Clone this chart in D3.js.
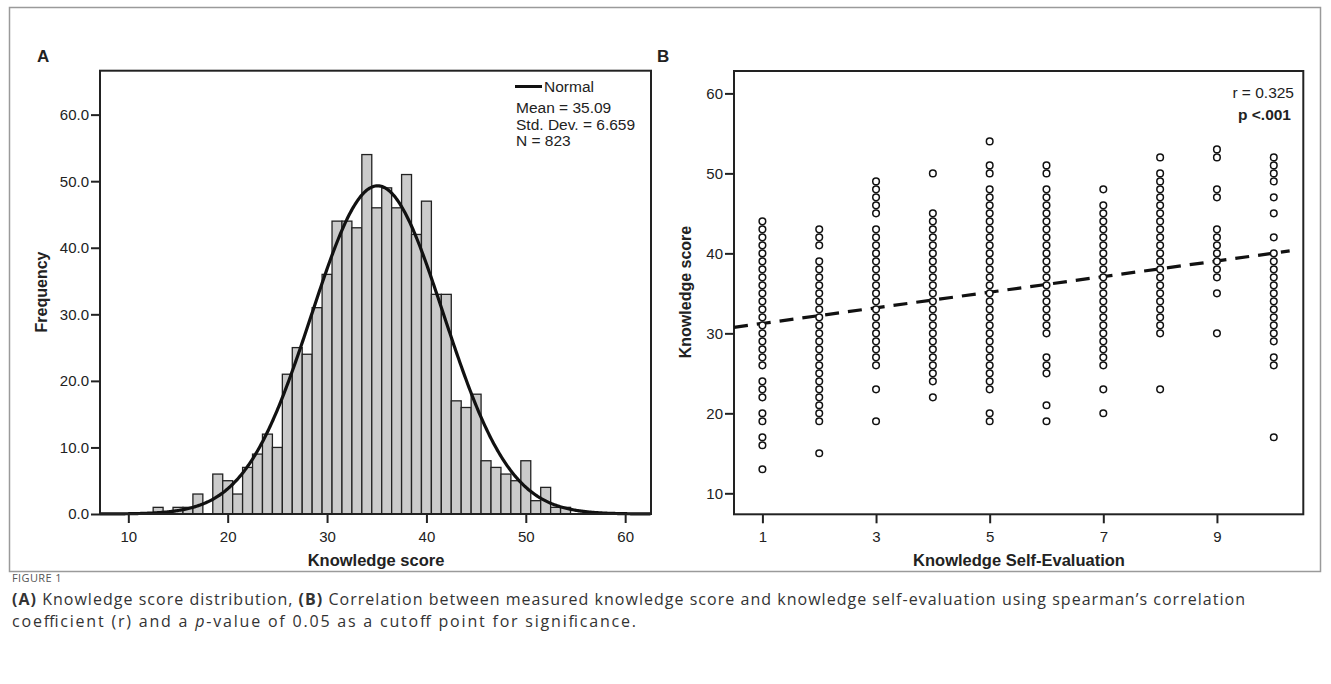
<!DOCTYPE html>
<html>
<head>
<meta charset="utf-8">
<script src="https://cdn.jsdelivr.net/npm/d3@7"></script>
<style>
  body { margin: 0; background: #fff; }
  svg text { font-family: "Liberation Sans", Arial, sans-serif; fill: #222; }
  .cap { font-family: "Open Sans", "Noto Sans", sans-serif; }
</style>
</head>
<body>
<div id="fig"></div>
<script>
// ---- panel A : histogram of knowledge score ----
var scores = [13, 15, 16, 17, 19, 20, 21, 22, 23, 24, 25, 26, 27, 28, 29, 30, 31, 32, 33, 34,
              35, 36, 37, 38, 39, 40, 41, 42, 43, 44, 45, 46, 47, 48, 49, 50, 51, 52, 53, 54];
var counts = [1, 1, 1, 3, 6, 5, 3, 7, 9, 12, 10, 21, 25, 24, 31, 36, 44, 44, 43, 54,
              46, 49, 46, 51, 42, 47, 33, 33, 17, 16, 18, 8, 7, 6, 5, 8, 2, 4, 1, 1];
var histTicksX = [10, 20, 30, 40, 50, 60];
var histTicksY = [0, 10, 20, 30, 40, 50, 60];
var normMean = 35.09, normSd = 6.659, normN = 823;
var legendLines = ["Mean = 35.09", "Std. Dev. = 6.659", "N = 823"];

// ---- panel B : knowledge score by self-evaluation ----
var selfEval = [1, 2, 3, 4, 5, 6, 7, 8, 9, 10];
var knowByEval = [
  [13, 16, 17, 19, 20, 22, 23, 24, 26, 27, 28, 29, 30, 31, 32, 33, 34, 35, 36, 37, 38, 39, 40, 41, 42, 43, 44],
  [15, 19, 20, 21, 22, 23, 24, 25, 26, 27, 28, 29, 30, 31, 32, 33, 34, 35, 36, 37, 38, 39, 41, 42, 43],
  [19, 23, 26, 27, 28, 29, 30, 31, 32, 33, 34, 35, 36, 37, 38, 39, 40, 41, 42, 43, 45, 46, 47, 48, 49],
  [22, 24, 25, 26, 27, 28, 29, 30, 31, 32, 33, 34, 35, 36, 37, 38, 39, 40, 41, 42, 43, 44, 45, 50],
  [19, 20, 23, 24, 25, 26, 27, 28, 29, 30, 31, 32, 33, 34, 35, 36, 37, 38, 39, 40, 41, 42, 43, 44, 45, 46, 47, 48, 50, 51, 54],
  [19, 21, 25, 26, 27, 30, 31, 32, 33, 34, 35, 36, 37, 38, 39, 40, 41, 42, 43, 44, 45, 46, 47, 48, 50, 51],
  [20, 23, 26, 27, 28, 29, 30, 31, 32, 33, 34, 35, 36, 37, 38, 39, 40, 41, 42, 43, 44, 45, 46, 48],
  [23, 30, 31, 32, 33, 34, 35, 36, 37, 38, 39, 40, 41, 42, 43, 44, 45, 46, 47, 48, 49, 50, 52],
  [30, 35, 37, 38, 39, 40, 41, 42, 43, 47, 48, 52, 53],
  [17, 26, 27, 29, 30, 31, 32, 33, 34, 35, 36, 37, 38, 39, 40, 42, 45, 47, 49, 50, 51, 52]
];
var scatTicksX = [1, 3, 5, 7, 9];
var scatTicksY = [10, 20, 30, 40, 50, 60];
var fitX = [0.5, 10.28];
var fitY = [30.75, 40.3];
var statLines = ["r = 0.325", "p <.001"];

var W = 1331, H = 684;
var svg = d3.select("#fig").append("svg")
    .attr("width", W)
    .attr("height", H);

// outer frame of the figure
svg.append("rect")
    .attr("x", 9.5).attr("y", 7.5)
    .attr("width", 1311).attr("height", 564)
    .attr("fill", "none")
    .attr("stroke", "#9a9a9a")
    .attr("stroke-width", 1.5);

//---------------- Panel A ----------------
var xA = d3.scaleLinear().domain([7.15, 62.6]).range([100, 651]);
var yA = d3.scaleLinear().domain([0, 66.6]).range([514, 70.7]);

svg.append("text").attr("x", 37).attr("y", 62)
    .attr("font-size", 17).attr("font-weight", "bold").text("A");

var gA = svg.append("g");

gA.selectAll("rect.bar")
    .data(scores)
    .enter()
    .append("rect")
    .attr("class", "bar")
    .attr("x", function(d) { return xA(d - 0.5); })
    .attr("width", function(d) { return xA(d + 0.5) - xA(d - 0.5); })
    .attr("y", function(d, i) { return yA(counts[i]); })
    .attr("height", function(d, i) { return yA(0) - yA(counts[i]); })
    .attr("fill", "#cbcbcb")
    .attr("stroke", "#222")
    .attr("stroke-width", 1.3);

// fitted normal curve (from legend mean / sd / N, bin width 1)
var curveXs = d3.range(7.15, 62.6, 0.1);
var curve = d3.line()
    .x(function(d) { return xA(d); })
    .y(function(d) {
        var z = (d - normMean) / normSd;
        return yA(normN / (normSd * Math.sqrt(2 * Math.PI)) * Math.exp(-0.5 * z * z));
    });
gA.append("path")
    .datum(curveXs)
    .attr("d", curve)
    .attr("fill", "none")
    .attr("stroke", "#111")
    .attr("stroke-width", 3.2);

// frame
gA.append("rect")
    .attr("x", xA.range()[0]).attr("y", yA.range()[1])
    .attr("width", xA.range()[1] - xA.range()[0])
    .attr("height", yA.range()[0] - yA.range()[1])
    .attr("fill", "none").attr("stroke", "#222").attr("stroke-width", 2);

var axA_y = d3.axisLeft(yA).tickValues(histTicksY).tickFormat(d3.format(".1f")).tickSize(9).tickPadding(2);
var axA_x = d3.axisBottom(xA).tickValues(histTicksX).tickSize(9).tickPadding(8);

gA.append("g").attr("class", "axis")
    .attr("transform", "translate(" + xA.range()[0] + ",0)")
    .call(axA_y);
gA.append("g").attr("class", "axis")
    .attr("transform", "translate(0," + yA.range()[0] + ")")
    .call(axA_x);

gA.append("text")
    .attr("transform", "translate(47," + 292 + ") rotate(-90)")
    .attr("text-anchor", "middle")
    .attr("font-size", 16).attr("font-weight", "bold")
    .text("Frequency");
gA.append("text")
    .attr("x", 376).attr("y", 566)
    .attr("text-anchor", "middle")
    .attr("font-size", 16.5).attr("font-weight", "bold")
    .text("Knowledge score");

// legend
gA.append("line")
    .attr("x1", 515).attr("x2", 542).attr("y1", 86.5).attr("y2", 86.5)
    .attr("stroke", "#111").attr("stroke-width", 3);
gA.append("text").attr("x", 544).attr("y", 92)
    .attr("font-size", 15.5).text("Normal");
gA.selectAll("text.leg")
    .data(legendLines)
    .enter()
    .append("text")
    .attr("class", "leg")
    .attr("x", 516)
    .attr("y", function(d, i) { return 113 + i * 16.5; })
    .attr("font-size", 15.5)
    .text(function(d) { return d; });

//---------------- Panel B ----------------
var xB = d3.scaleLinear().domain([0.5, 10.52]).range([734, 1303.3]);
var yB = d3.scaleLinear().domain([7.375, 62.8]).range([514.3, 71]);

svg.append("text").attr("x", 657).attr("y", 62)
    .attr("font-size", 17).attr("font-weight", "bold").text("B");

var gB = svg.append("g");

gB.append("rect")
    .attr("x", xB.range()[0]).attr("y", yB.range()[1])
    .attr("width", xB.range()[1] - xB.range()[0])
    .attr("height", yB.range()[0] - yB.range()[1])
    .attr("fill", "none").attr("stroke", "#222").attr("stroke-width", 2);

var pts = [];
selfEval.forEach(function(e, i) {
    knowByEval[i].forEach(function(k) { pts.push({ e: e, k: k }); });
});

gB.append("path")
    .datum(d3.zip(fitX, fitY))
    .attr("d", d3.line().x(function(d) { return xB(d[0]); }).y(function(d) { return yB(d[1]); }))
    .attr("fill", "none")
    .attr("stroke", "#111")
    .attr("stroke-width", 3.2)
    .attr("stroke-dasharray", "14,9");

gB.selectAll("circle")
    .data(pts)
    .enter()
    .append("circle")
    .attr("cx", function(d) { return xB(d.e); })
    .attr("cy", function(d) { return yB(d.k); })
    .attr("r", 3.3)
    .attr("fill", "#fff")
    .attr("stroke", "#111")
    .attr("stroke-width", 1.5);

var axB_y = d3.axisLeft(yB).tickValues(scatTicksY).tickSize(9).tickPadding(2);
var axB_x = d3.axisBottom(xB).tickValues(scatTicksX).tickSize(9).tickPadding(8);
gB.append("g").attr("class", "axis")
    .attr("transform", "translate(" + xB.range()[0] + ",0)")
    .call(axB_y);
gB.append("g").attr("class", "axis")
    .attr("transform", "translate(0," + yB.range()[0] + ")")
    .call(axB_x);

gB.append("text")
    .attr("transform", "translate(691," + 292 + ") rotate(-90)")
    .attr("text-anchor", "middle")
    .attr("font-size", 16).attr("font-weight", "bold")
    .text("Knowledge score");
gB.append("text")
    .attr("x", 1019).attr("y", 566)
    .attr("text-anchor", "middle")
    .attr("font-size", 16.5).attr("font-weight", "bold")
    .text("Knowledge Self-Evaluation");

gB.append("text").attr("x", 1294).attr("y", 98)
    .attr("text-anchor", "end").attr("font-size", 15.5).text(statLines[0]);
gB.append("text").attr("x", 1291).attr("y", 120)
    .attr("text-anchor", "end").attr("font-size", 15.5).attr("font-weight", "bold").text(statLines[1]);

// axis styling
svg.selectAll(".axis path.domain").remove();
svg.selectAll(".axis line").attr("stroke", "#222").attr("stroke-width", 2);
svg.selectAll(".axis text")
    .attr("font-size", 15)
    .attr("font-family", "Liberation Sans, Arial, sans-serif")
    .attr("fill", "#222");

//---------------- caption ----------------
svg.append("text").attr("class", "cap")
    .attr("x", 12).attr("y", 582)
    .attr("font-size", 11).attr("letter-spacing", 0.4)
    .style("fill", "#555")
    .text("FIGURE 1");

var c1 = svg.append("text").attr("class", "cap")
    .attr("x", 12).attr("y", 605).attr("font-size", 16).style("fill", "#333")
    .attr("textLength", 1233).attr("lengthAdjust", "spacing");
c1.append("tspan").attr("font-weight", "bold").text("(A)");
c1.append("tspan").text(" Knowledge score distribution, ");
c1.append("tspan").attr("font-weight", "bold").text("(B)");
c1.append("tspan").text(" Correlation between measured knowledge score and knowledge self-evaluation using spearman\u2019s correlation");

var c2 = svg.append("text").attr("class", "cap")
    .attr("x", 12).attr("y", 627).attr("font-size", 16).style("fill", "#333")
    .attr("textLength", 624).attr("lengthAdjust", "spacing");
c2.append("tspan").text("coefficient (r) and a ");
c2.append("tspan").attr("font-style", "italic").text("p");
c2.append("tspan").text("-value of 0.05 as a cutoff point for significance.");
</script>
</body>
</html>
